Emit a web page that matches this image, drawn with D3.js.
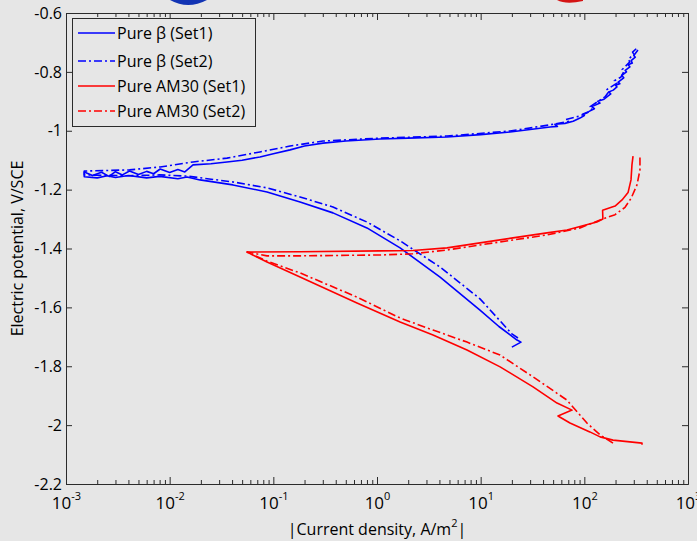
<!DOCTYPE html>
<html>
<head>
<meta charset="utf-8">
<script src="https://cdn.jsdelivr.net/npm/d3@7"></script>
<style>
  body { margin: 0; background: #e6e6e6; }
  svg { display: block; font-family: "Open Sans", sans-serif; }
</style>
</head>
<body>
<svg id="chart" width="697" height="541"></svg>
<script>
// Pure beta, set 1 (cathodic end -> Ecorr -> anodic end)
const betaSet1Current = [20.0, 24.5, 22.4, 15.0, 9.85, 4.06, 1.67, 0.80, 0.376, 0.181, 0.0869, 0.0408, 0.0196, 0.0147, 0.012, 0.008, 0.006, 0.004, 0.003, 0.0025, 0.002, 0.0015,
    0.0015, 0.0018, 0.0022, 0.0026, 0.003, 0.0035, 0.0041, 0.005, 0.006, 0.007, 0.0081, 0.01, 0.012, 0.014, 0.0168, 0.025, 0.0357, 0.05, 0.0743, 0.1, 0.145, 0.2, 0.301, 0.5, 1.07, 2, 4.73, 10, 19.2, 30, 46.7,
    55, 52, 65, 78, 90.8, 100, 96, 110, 125, 118, 141.6, 135, 155, 165, 180, 172, 190, 206.5, 200, 220, 212, 240, 230, 255, 248, 275, 265, 290, 283, 310, 300, 329];
const betaSet1Potential = [-1.735, -1.718, -1.711, -1.665, -1.609, -1.497, -1.398, -1.330, -1.279, -1.242, -1.208, -1.184, -1.167, -1.157, -1.163, -1.155, -1.160, -1.152, -1.159, -1.153, -1.160, -1.156,
    -1.140, -1.152, -1.141, -1.155, -1.139, -1.150, -1.137, -1.149, -1.138, -1.146, -1.130, -1.142, -1.132, -1.140, -1.116, -1.112, -1.106, -1.100, -1.089, -1.078, -1.065, -1.052, -1.042, -1.035, -1.028, -1.025, -1.021, -1.013, -1.004, -0.996, -0.987,
    -0.985, -0.978, -0.975, -0.968, -0.957, -0.948, -0.944, -0.935, -0.925, -0.918, -0.906, -0.900, -0.893, -0.885, -0.875, -0.868, -0.862, -0.851, -0.845, -0.840, -0.835, -0.820, -0.812, -0.800, -0.795, -0.783, -0.776, -0.770, -0.762, -0.750, -0.744, -0.726];

// Pure beta, set 2
const betaSet2Current = [22.9, 20.0, 9.85, 4.06, 1.67, 0.80, 0.376, 0.181, 0.0869, 0.0408, 0.0147, 0.008, 0.004, 0.0015,
    0.0015, 0.0041, 0.0081, 0.0168, 0.0357, 0.0743, 0.145, 0.301, 1.07, 4.73, 19.2, 46.7, 70, 66, 90.8, 108, 120, 114, 141.6, 158, 170, 162, 206.5, 195, 225, 240, 232, 275, 265, 300, 292, 322];
const betaSet2Potential = [-1.704, -1.690, -1.571, -1.463, -1.374, -1.310, -1.259, -1.225, -1.194, -1.174, -1.154, -1.150, -1.153, -1.150,
    -1.137, -1.133, -1.123, -1.106, -1.093, -1.072, -1.052, -1.035, -1.025, -1.018, -1.001, -0.980, -0.968, -0.962, -0.950, -0.938, -0.925, -0.918, -0.896, -0.885, -0.870, -0.862, -0.838, -0.830, -0.818, -0.800, -0.792, -0.766, -0.758, -0.740, -0.733, -0.719];

// Pure AM30, set 1
const am30Set1Current = [360, 360, 189, 142, 113, 72.7, 55.7, 76.1, 54.5, 32.0, 15.4, 7.38, 3.47, 1.67, 0.641, 0.181, 0.0869, 0.0557,
    0.181, 1.07, 2.22, 4.73, 9.85, 20.5, 43.6, 68, 132, 151, 150, 198, 231, 264, 282, 288, 295];
const am30Set1Potential = [-2.067, -2.061, -2.051, -2.040, -2.023, -1.993, -1.969, -1.949, -1.925, -1.870, -1.802, -1.745, -1.694, -1.650, -1.585, -1.497, -1.446, -1.412,
    -1.411, -1.408, -1.407, -1.398, -1.381, -1.364, -1.347, -1.337, -1.310, -1.300, -1.270, -1.256, -1.235, -1.210, -1.167, -1.116, -1.086];

// Pure AM30, set 2
const am30Set2Current = [189, 142, 106, 68, 32, 15.4, 7.38, 3.47, 1.67, 0.641, 0.181, 0.0869, 0.0557,
    0.0869, 0.181, 1.07, 2.22, 4.73, 9.85, 20.5, 43.6, 90.8, 142, 198, 247, 282, 322, 344, 344];
const am30Set2Potential = [-2.061, -2.033, -1.993, -1.915, -1.836, -1.762, -1.718, -1.677, -1.636, -1.565, -1.483, -1.443, -1.412,
    -1.425, -1.425, -1.422, -1.418, -1.405, -1.388, -1.371, -1.354, -1.330, -1.303, -1.285, -1.260, -1.230, -1.184, -1.133, -1.086];

const seriesNames = ["Pure \u03b2 (Set1)", "Pure \u03b2 (Set2)", "Pure AM30 (Set1)", "Pure AM30 (Set2)"];
const seriesColors = ["#0000ff", "#0000ff", "#ff0000", "#ff0000"];
const seriesDashed = [false, true, false, true];

const xMajorTicks = [1e-3, 1e-2, 1e-1, 1e0, 1e1, 1e2, 1e3];
const xTickExponents = ["-3", "-2", "-1", "0", "1", "2", "3"];
const yTicks = [-2.2, -2, -1.8, -1.6, -1.4, -1.2, -1, -0.8, -0.6];

const svg = d3.select("#chart");
const width = 697, height = 541;
const margin = {left: 66, right: 9, top: 13, bottom: 57};

svg.append("rect").attr("width", width).attr("height", height).attr("fill", "#e6e6e6");

// bits of logos peeking in at the top
svg.append("path").attr("d", "M170,0 Q188,10 207,0 Z").attr("fill", "#1234b4");
svg.append("path").attr("d", "M557,0 Q566,5 583,1 L583,0 Z").attr("fill", "#d41414");

const x = d3.scaleLog()
    .domain([1e-3, 1e3])
    .range([margin.left, width - margin.right]);
const y = d3.scaleLinear()
    .domain([-2.2, -0.6])
    .range([height - margin.bottom, margin.top]);

// minor ticks for the log axis
let xMinorTicks = [];
xMajorTicks.slice(0, -1).forEach(d => {
    for (let k = 2; k <= 9; k++) xMinorTicks.push(d * k);
});

const axisColor = "#2b2b2b";
function styleAxis(g) {
    g.selectAll("path, line").attr("stroke", axisColor);
    g.selectAll("text").attr("fill", "#000").style("font-size", "16px").style("font-family", "Open Sans");
}

// bottom
svg.append("g")
    .attr("transform", `translate(0,${height - margin.bottom})`)
    .call(d3.axisBottom(x).tickValues(xMinorTicks).tickSizeInner(-4).tickSizeOuter(0).tickFormat(""))
    .call(styleAxis);
const xAxisG = svg.append("g")
    .attr("transform", `translate(0,${height - margin.bottom})`)
    .call(d3.axisBottom(x).tickValues(xMajorTicks).tickSizeInner(-7).tickSizeOuter(0).tickPadding(16))
    .call(styleAxis);
xAxisG.selectAll(".tick text").each(function(d, i) {
    const t = d3.select(this).text("").attr("dy", "0").attr("y", 25).style("font-size", "17px");
    t.append("tspan").text("10");
    t.append("tspan").attr("dy", -9).style("font-size", "11px").text(xTickExponents[i]);
});

// top
svg.append("g")
    .attr("transform", `translate(0,${margin.top})`)
    .call(d3.axisTop(x).tickValues(xMinorTicks).tickSizeInner(-4).tickSizeOuter(0).tickFormat(""))
    .call(styleAxis);
svg.append("g")
    .attr("transform", `translate(0,${margin.top})`)
    .call(d3.axisTop(x).tickValues(xMajorTicks).tickSizeInner(-7).tickSizeOuter(0).tickFormat(""))
    .call(styleAxis);

// left
svg.append("g")
    .attr("transform", `translate(${margin.left},0)`)
    .call(d3.axisLeft(y).tickValues(yTicks).tickSizeInner(-6).tickSizeOuter(0).tickPadding(4)
        .tickFormat(d => String(+d.toFixed(1))))
    .call(styleAxis);

// right
svg.append("g")
    .attr("transform", `translate(${width - margin.right},0)`)
    .call(d3.axisRight(y).tickValues(yTicks).tickSizeInner(-6).tickSizeOuter(0).tickFormat(""))
    .call(styleAxis);

// axis titles
const xTitle = svg.append("text")
    .attr("x", (margin.left + width - margin.right) / 2)
    .attr("y", 535)
    .attr("text-anchor", "middle")
    .style("font-size", "16px");
xTitle.append("tspan").text("|Current density, A/m");
xTitle.append("tspan").attr("dy", -8).style("font-size", "11px").text("2");
xTitle.append("tspan").attr("dy", 8).text("|");

svg.append("text")
    .attr("transform", `translate(23,${(margin.top + height - margin.bottom) / 2}) rotate(-90)`)
    .attr("text-anchor", "middle")
    .style("font-size", "16px")
    .text("Electric potential, V/SCE");

// curves
const line = d3.line().x(d => x(d[0])).y(d => y(d[1]));
const seriesData = [
    d3.zip(betaSet1Current, betaSet1Potential),
    d3.zip(betaSet2Current, betaSet2Potential),
    d3.zip(am30Set1Current, am30Set1Potential),
    d3.zip(am30Set2Current, am30Set2Potential)
];
seriesData.forEach((data, i) => {
    svg.append("path")
        .datum(data)
        .attr("d", line)
        .attr("fill", "none")
        .attr("stroke", seriesColors[i])
        .attr("stroke-width", 1.6)
        .attr("stroke-linejoin", "round")
        .attr("stroke-dasharray", seriesDashed[i] ? "8,3,2,3" : null);
});

// legend
const legend = svg.append("g");
legend.append("rect")
    .attr("x", 72.5).attr("y", 18.5)
    .attr("width", 183).attr("height", 108)
    .attr("fill", "#e6e6e6")
    .attr("stroke", axisColor);
const legendRows = [33, 61, 86, 111];
seriesNames.forEach((name, i) => {
    legend.append("line")
        .attr("x1", 78).attr("x2", 115)
        .attr("y1", legendRows[i]).attr("y2", legendRows[i])
        .attr("stroke", seriesColors[i])
        .attr("stroke-width", 1.6)
        .attr("stroke-dasharray", seriesDashed[i] ? "8,3,2,3" : null);
    legend.append("text")
        .attr("x", 117).attr("y", legendRows[i])
        .attr("dy", "0.35em")
        .style("font-size", "16px")
        .text(name);
});
</script>
</body>
</html>
